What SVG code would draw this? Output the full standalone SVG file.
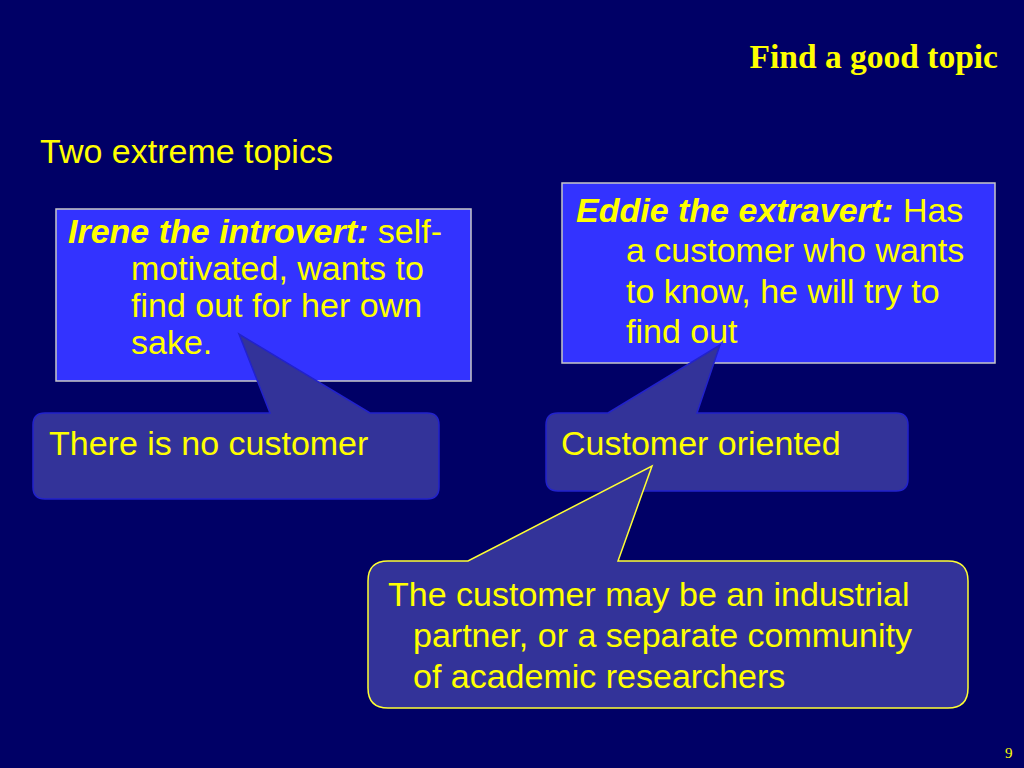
<svg xmlns="http://www.w3.org/2000/svg" width="1024" height="768" viewBox="0 0 1024 768">
  <style>
    .t { font-family: "Liberation Sans", Arial, sans-serif; font-size: 34px; fill: #ffff00; }
    .bi { font-weight: bold; font-style: italic; }
    .serif { font-family: "Liberation Serif", "Times New Roman", serif; fill: #ffff00; }
    .box { fill: #3333ff; stroke: #c8c8c8; stroke-width: 1.5; }
    .call { fill: #333399; stroke: #2222cc; stroke-width: 1.5; }
    .callY { fill: #333399; stroke: #ffff33; stroke-width: 1.5; }
  </style>
  <rect x="0" y="0" width="1024" height="768" fill="#000066"/>
  <text class="serif" x="998" y="68" font-size="33.5" font-weight="bold" text-anchor="end">Find a good topic</text>
  <text class="t" x="40" y="163">Two extreme topics</text>

  <g id="irene">
    <rect class="box" x="56" y="209" width="415" height="172"/>
    <text class="t" x="68" y="243"><tspan class="bi">Irene the introvert:</tspan> self-</text>
    <text class="t" x="131" y="280">motivated, wants to</text>
    <text class="t" x="131" y="317">find out for her own</text>
    <text class="t" x="131" y="354">sake.</text>
  </g>

  <g id="eddie">
    <rect class="box" x="562" y="183" width="433" height="180"/>
    <text class="t" x="576" y="222"><tspan class="bi">Eddie the extravert:</tspan> Has</text>
    <text class="t" x="626" y="262">a customer who wants</text>
    <text class="t" x="626" y="303">to know, he will try to</text>
    <text class="t" x="626" y="343">find out</text>
  </g>

  <g id="connectors">
    <g id="callout-no-customer">
      <path class="call" d="M45 413 L270 413 L239 334 L370 413 L427 413 Q439 413 439 425 L439 487 Q439 499 427 499 L45 499 Q33 499 33 487 L33 425 Q33 413 45 413 Z"/>
      <text class="t" x="49" y="455">There is no customer</text>
    </g>
    <g id="callout-customer-oriented">
      <path class="call" d="M558 413 L608 413 L720 345 L697 413 L896 413 Q908 413 908 425 L908 479 Q908 491 896 491 L558 491 Q546 491 546 479 L546 425 Q546 413 558 413 Z"/>
      <text class="t" x="561" y="455">Customer oriented</text>
    </g>
    <g id="callout-customer-may-be">
      <path class="callY" d="M388 561 L468 561 L652 466 L618 561 L948 561 Q968 561 968 581 L968 688 Q968 708 948 708 L388 708 Q368 708 368 688 L368 581 Q368 561 388 561 Z"/>
      <text class="t" x="388" y="606">The customer may be an industrial</text>
      <text class="t" x="413" y="647">partner, or a separate community</text>
      <text class="t" x="413" y="688">of academic researchers</text>
    </g>
  </g>

  <text class="serif" x="1005" y="758" font-size="15">9</text>
</svg>
